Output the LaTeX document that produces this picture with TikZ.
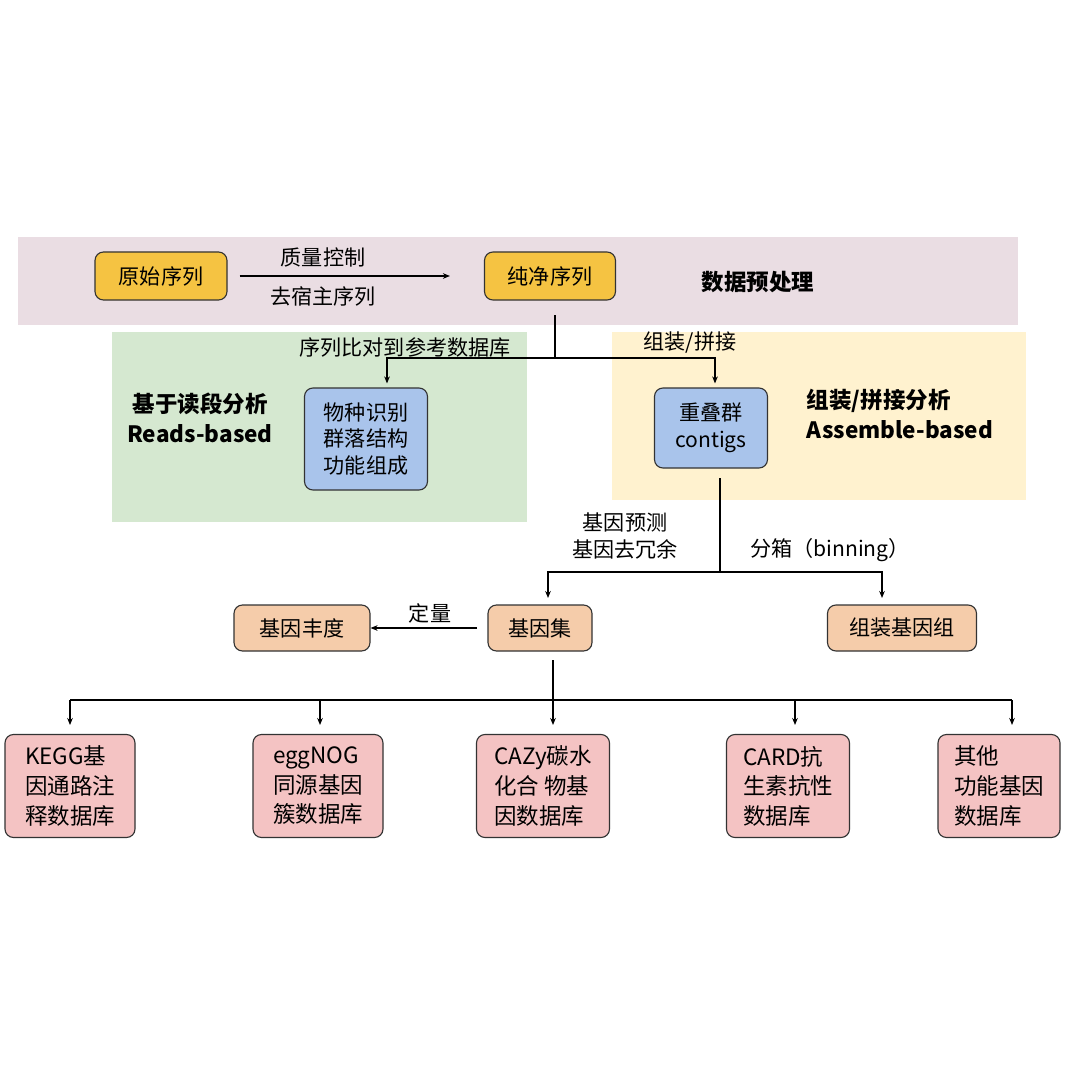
\documentclass[tikz,border=0pt]{standalone}
\usepackage{fontspec}
\setmainfont{Noto Sans CJK SC}
\usetikzlibrary{arrows.meta,calc}
\definecolor{bandpink}{HTML}{EADDE3}
\definecolor{bandgreen}{HTML}{D5E8D0}
\definecolor{bandyellow}{HTML}{FFF2CF}
\definecolor{boxyellow}{HTML}{F5C342}
\definecolor{boxblue}{HTML}{A9C4EB}
\definecolor{boxpeach}{HTML}{F5CCAA}
\definecolor{boxpink}{HTML}{F4C3C3}
\tikzset{
 bx/.style={draw=black!80, line width=0.8pt, rounded corners=6pt, align=center, inner sep=0pt, font=\fontsize{15}{19}\selectfont},
 lbl/.style={font=\fontsize{15}{19}\selectfont, align=center},
 ar/.style={-{Stealth[length=5pt,width=4pt]}, line width=0.8pt},
 ln/.style={line width=0.8pt}
}
\begin{document}
\begin{tikzpicture}[x=0.025cm,y=-0.025cm]
\useasboundingbox (0,0) rectangle (1070,1070);
\fill[white] (0,0) rectangle (1070,1070);
\fill[bandpink] (18,237) rectangle (1018,325);
\fill[bandgreen] (112,332) rectangle (527,522);
\fill[bandyellow] (612,332) rectangle (1026,500);
% top row
\node[bx, fill=boxyellow, minimum width=132*0.025cm, minimum height=48*0.025cm] (raw) at (161,276) {原始序列};
\node[bx, fill=boxyellow, minimum width=131*0.025cm, minimum height=48*0.025cm] (clean) at (550,276) {纯净序列};
\draw[ar] ($(raw.east)+(12,0)$) -- ($(clean.west)+(-34,0)$);
\node[lbl] (qc) at (323,257) {质量控制};
\node[lbl] (rh) at (323,296) {去宿主序列};
\node[lbl, font=\fontsize{16}{19}\selectfont\bfseries] (pre) at (758,282) {数据预处理};
% second
\node[bx, fill=boxblue, minimum width=123*0.025cm, minimum height=102*0.025cm] (sp) at (366,439) {物种识别\\群落结构\\功能组成};
\node[bx, fill=boxblue, minimum width=113*0.025cm, minimum height=80*0.025cm] (ctg) at (711,428) {重叠群\\contigs};
\coordinate (j1) at (555,358);
\draw[ln] (555,315) -- (j1);
\draw[ar] (j1) -| ($(sp.north)+(21,-4)$);
\draw[ar] (j1) -| ($(ctg.north)+(4,-4)$);
\node[lbl] (map) at (405,347) {序列比对到参考数据库};
\node[lbl] (asm) at (690,343) {组装/拼接};
\node[lbl, font=\fontsize{16}{21}\selectfont\bfseries] (rb) at (200,418) {基于读段分析\\Reads-based};
\node[lbl, font=\fontsize{16}{21}\selectfont\bfseries, align=left] (ab) at (900,414) {组装/拼接分析\\Assemble-based};
% third
\node[bx, fill=boxpeach, minimum width=136*0.025cm, minimum height=46*0.025cm] (abund) at (302,628) {基因丰度};
\node[bx, fill=boxpeach, minimum width=104*0.025cm, minimum height=46*0.025cm] (gset) at (540,628) {基因集};
\node[bx, fill=boxpeach, minimum width=149*0.025cm, minimum height=46*0.025cm] (mag) at (902,628) {组装基因组};
\coordinate (j2) at (720,572);
\draw[ln] (720,478) -- (j2);
\draw[ar] (j2) -| (548,598);
\draw[ar] (j2) -| (882,598);
\node[lbl] (gp) at (625,536) {基因预测\\基因去冗余};
\node[lbl] (bin) at (830,550) {分箱（binning）};
\draw[ar] (477,628) -- (abund.east);
\node[lbl] (quant) at (430,613) {定量};
% bottom
\tikzset{pk/.style={bx, fill=boxpink, minimum height=103*0.025cm, align=left, font=\fontsize{16}{21}\selectfont}}
\node[pk, minimum width=130*0.025cm] (kegg) at (70,786) {KEGG基\\因通路注\\释数据库};
\node[pk, minimum width=130*0.025cm] (egg) at (318,786) {eggNOG\\同源基因\\簇数据库};
\node[pk, minimum width=133*0.025cm] (cazy) at (543,786) {CAZy碳水\\化合 物基\\因数据库};
\node[pk, minimum width=123*0.025cm] (card) at (788,786) {CARD抗\\生素抗性\\数据库};
\node[pk, minimum width=122*0.025cm] (oth) at (999,786) {其他\\功能基因\\数据库};
\coordinate (j3) at (553,700);
\draw[ln] (553,660) -- (j3);
\draw[ln] (70,700) -- (1012,700);
\draw[ar] (70,700) -- (70,725);
\draw[ar] (320,700) -- (320,725);
\draw[ar] (j3) -- (553,725);
\draw[ar] (795,700) -- (795,725);
\draw[ar] (1012,700) -- (1012,725);
\end{tikzpicture}
\end{document}
